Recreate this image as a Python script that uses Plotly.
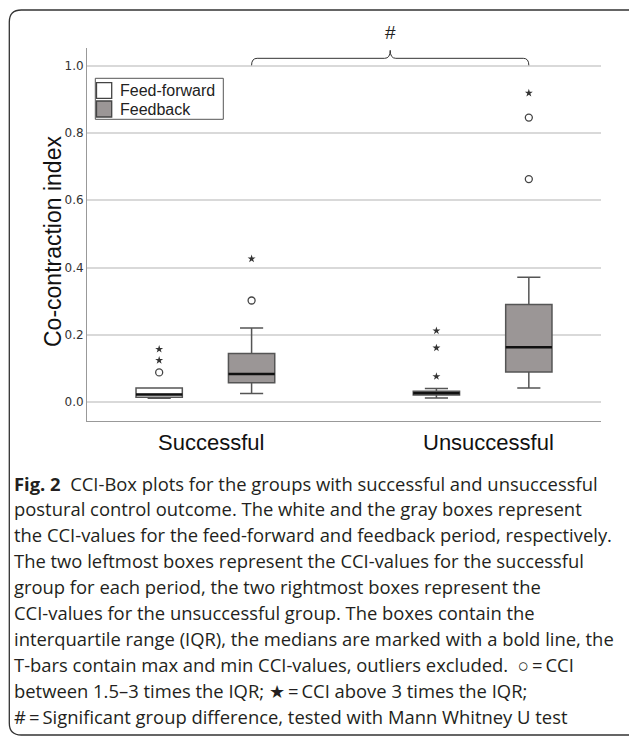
import plotly.graph_objects as go

# ---------------- data ----------------
groups = ["Successful", "Unsuccessful"]
group_pos = [0, 1]
series_names = ["Feed-forward", "Feedback"]

# Feed-forward (white boxes)
ff_low = [0.011, 0.012]
ff_q1 = [0.014, 0.021]
ff_median = [0.022, 0.026]
ff_q3 = [0.042, 0.032]
ff_high = [0.042, 0.040]
ff_mild = [[0.088], []]
ff_extreme = [[0.124, 0.157], [0.076, 0.161, 0.212]]

# Feedback (gray boxes)
fb_low = [0.025, 0.042]
fb_q1 = [0.057, 0.089]
fb_median = [0.083, 0.163]
fb_q3 = [0.144, 0.290]
fb_high = [0.220, 0.371]
fb_mild = [[0.302], [0.663, 0.846]]
fb_extreme = [[0.426], [0.919]]

y_ticks = [0.0, 0.2, 0.4, 0.6, 0.8, 1.0]
y_ticktext = ["0.0", "0.2", "0.4", "0.6", "0.8", "1.0"]

caption_lines = [
    "<b>Fig. 2</b>\u00a0\u00a0CCI-Box plots for the groups with successful and unsuccessful",
    "postural control outcome. The white and the gray boxes represent",
    "the CCI-values for the feed-forward and feedback period, respectively.",
    "The two leftmost boxes represent the CCI-values for the successful",
    "group for each period, the two rightmost boxes represent the",
    "CCI-values for the unsuccessful group. The boxes contain the",
    "interquartile range (IQR), the medians are marked with a bold line, the",
    "T-bars contain max and min CCI-values, outliers excluded.\u00a0\u00a0\u25cb\u2009=\u2009CCI",
    "between 1.5\u20133 times the IQR; \u2605\u2009=\u2009CCI above 3 times the IQR;",
    "#\u2009=\u2009Significant group difference, tested with Mann Whitney U test",
]

# ---------------- layout constants ----------------
W, H = 629, 739
ML, MR, MT, MB = 87, 28, 48, 318
OFF = 1 / 6
BOX_W = 0.167
FF_COLOR = "#ffffff"
FB_COLOR = "#9b9696"
EDGE = "#555555"
LABEL_FONT = "Liberation Sans, Arial"


def px_x(p):
    return (p - ML) / (W - ML - MR)


def px_y(p):
    return (H - MB - p) / (H - MB - MT)


ff_x = [g - OFF for g in group_pos]
fb_x = [g + OFF for g in group_pos]

fig = go.Figure()

for name, xs, lo, q1, md, q3, hi, col in [
    (series_names[0], ff_x, ff_low, ff_q1, ff_median, ff_q3, ff_high, FF_COLOR),
    (series_names[1], fb_x, fb_low, fb_q1, fb_median, fb_q3, fb_high, FB_COLOR),
]:
    fig.add_trace(go.Box(
        name=name, x=xs, q1=q1, median=md, q3=q3,
        lowerfence=lo, upperfence=hi, width=BOX_W,
        fillcolor=col, line=dict(color=EDGE, width=1.5),
        whiskerwidth=0.5, boxpoints=False, hoverinfo="skip", showlegend=False,
    ))
    # bold median lines
    mx, my = [], []
    for x, m in zip(xs, md):
        mx += [x - BOX_W / 2, x + BOX_W / 2, None]
        my += [m, m, None]
    fig.add_trace(go.Scatter(x=mx, y=my, mode="lines",
                             line=dict(color="#111111", width=2.5),
                             showlegend=False, hoverinfo="skip"))

# outliers
for xs, mild, extreme in [(ff_x, ff_mild, ff_extreme), (fb_x, fb_mild, fb_extreme)]:
    cx, cy, sx, sy = [], [], [], []
    for x, m, e in zip(xs, mild, extreme):
        cx += [x] * len(m)
        cy += m
        sx += [x] * len(e)
        sy += e
    fig.add_trace(go.Scatter(x=cx, y=cy, mode="markers",
                             marker=dict(symbol="circle-open", size=7,
                                         color="#444444", line=dict(width=1.3)),
                             showlegend=False, hoverinfo="skip"))
    fig.add_trace(go.Scatter(x=sx, y=sy, mode="markers",
                             marker=dict(symbol="star", size=6, color="#333333"),
                             showlegend=False, hoverinfo="skip"))

# significance bracket between the two feedback boxes
x1, x2 = fb_x[0], fb_x[1]
xm = (x1 + x2) / 2
yb, yh, yt = 1.0015, 1.0223, 1.046
d = 0.02
path = (f"M{x1},{yb} Q{x1},{yh} {x1 + d},{yh} L{xm - d},{yh} Q{xm},{yh} {xm},{yt} "
        f"Q{xm},{yh} {xm + d},{yh} L{x2 - d},{yh} Q{x2},{yh} {x2},{yb}")
fig.add_shape(type="path", path=path, xref="x", yref="y",
              line=dict(color="#333333", width=1))
fig.add_annotation(x=xm, y=px_y(33), xref="x", yref="paper", text="#", showarrow=False,
                   yanchor="middle",
                   font=dict(family=LABEL_FONT, size=19, color="#222222"))

# group labels
for g, lab in zip(group_pos, groups):
    fig.add_annotation(x=g, y=px_y(442), xref="x", yref="paper", text=lab,
                       showarrow=False, xshift=6, yanchor="middle",
                       font=dict(family=LABEL_FONT, size=22, color="#111111"))

# y-axis title
fig.add_annotation(x=px_x(53), y=px_y(242), xref="paper", yref="paper",
                   text="Co-contraction index", textangle=-90, showarrow=False,
                   xanchor="center", yanchor="middle",
                   font=dict(family=LABEL_FONT, size=23, color="#111111"))

# legend (frame, swatches, labels)
fig.add_shape(type="rect", xref="paper", yref="paper",
              x0=px_x(95.3), x1=px_x(223.3), y0=px_y(119.3), y1=px_y(78.3),
              line=dict(color="#555555", width=1), fillcolor="white")
for (yt_, yb_, yc), col, name in zip([(82.7, 98.3, 91), (101, 117, 109)],
                                    [FF_COLOR, FB_COLOR], series_names):
    fig.add_shape(type="rect", xref="paper", yref="paper",
                  x0=px_x(96.5), x1=px_x(111.7), y0=px_y(yb_), y1=px_y(yt_),
                  line=dict(color="#444444", width=1.3), fillcolor=col)
    fig.add_annotation(x=px_x(117.5), y=px_y(yc), xref="paper", yref="paper",
                       text=name, showarrow=False, xanchor="left", yanchor="middle",
                       font=dict(family=LABEL_FONT, size=16, color="#222222"))

# caption
for i, line in enumerate(caption_lines):
    fig.add_annotation(x=px_x(12), y=px_y(483 + 25.9 * i), xref="paper", yref="paper",
                       text=line, showarrow=False, xanchor="left", yanchor="middle",
                       font=dict(family="Open Sans", size=18.4, color="#231f20"))

# rounded frame
l, t, b, r, rad = 9.3, 10, 735, 660, 12
rx = rad / (W - ML - MR)
ry = rad / (H - MB - MT)
frame = (f"M{px_x(r)},{px_y(t)} L{px_x(l) + rx},{px_y(t)} "
         f"Q{px_x(l)},{px_y(t)} {px_x(l)},{px_y(t) - ry} "
         f"L{px_x(l)},{px_y(b) + ry} Q{px_x(l)},{px_y(b)} {px_x(l) + rx},{px_y(b)} "
         f"L{px_x(r)},{px_y(b)}")
fig.add_shape(type="path", path=frame, xref="paper", yref="paper",
              line=dict(color="#333333", width=1.3))

fig.update_layout(
    width=W, height=H,
    margin=dict(l=ML, r=MR, t=MT, b=MB),
    paper_bgcolor="white", plot_bgcolor="white",
    showlegend=False,
    xaxis=dict(range=[-0.427, 1.427], showgrid=False, zeroline=False,
               showticklabels=False, ticks="", showline=True,
               linecolor="#999999", linewidth=1),
    yaxis=dict(range=[-0.0565, 1.053], tickvals=y_ticks, ticktext=y_ticktext,
               showgrid=True, gridcolor="#d9d9d9", gridwidth=1.5,
               zeroline=False, ticks="", showline=True,
               linecolor="#999999", linewidth=1,
               tickfont=dict(family="DejaVu Sans", size=12, color="#333333")),
)

fig.write_html("out.html")
